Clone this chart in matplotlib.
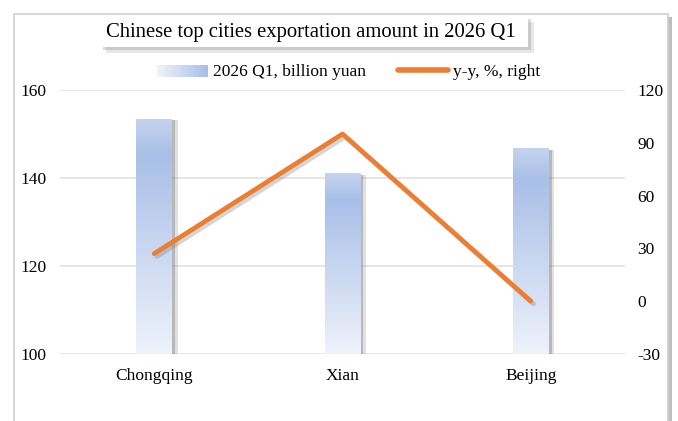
import matplotlib
matplotlib.use("Agg")
import matplotlib.pyplot as plt
import matplotlib.patheffects as pe
from matplotlib.patches import Rectangle
from matplotlib.legend_handler import HandlerBase
from matplotlib.colors import LinearSegmentedColormap, to_rgb
from matplotlib.lines import Line2D
import numpy as np

plt.rcParams['font.family'] = ['Liberation Serif', 'DejaVu Serif']
plt.rcParams['axes.unicode_minus'] = False

cities = ["Chongqing", "Xian", "Beijing"]
export_bn = [153.4, 141.1, 146.6]
yoy_pct = [27, 95, 0]
left_ticks = [100, 120, 140, 160]
right_ticks = [-30, 0, 30, 60, 90, 120]

blue_top = "#c5d3ef"
blue_mid = "#a9bfe8"
blue_low = "#eef2fb"
orange = "#ed7d31"
grid_col = "#e2e2e2"

bar_cmap = LinearSegmentedColormap.from_list(
    "bar", [(0.0, blue_low), (0.85, blue_mid), (1.0, blue_top)])


class GradientHandler(HandlerBase):
    # legend key drawn as a horizontal light -> blue gradient
    def create_artists(self, legend, orig, xd, yd, w, h, fs, trans):
        n = 20
        c0 = np.array(to_rgb("#eef2fb"))
        c1 = np.array(to_rgb(blue_mid))
        arts = []
        for i in range(n):
            c = c0 + (c1 - c0) * i / (n - 1)
            r = Rectangle((-xd + w * i / n, -yd - h * 0.05), w / n + 0.3, h * 1.0,
                          facecolor=c, edgecolor="none", transform=trans)
            arts.append(r)
        return arts


fig = plt.figure(figsize=(6.78, 4.21), dpi=100)

# outer chart frame with shadow
frame = Rectangle((14 / 678, -0.05), (668 - 14) / 678, 1.05 - 14 / 421,
                  transform=fig.transFigure, facecolor="white",
                  edgecolor="#d0d0d0", linewidth=1.2, zorder=-5)
frame.set_path_effects([pe.SimplePatchShadow(offset=(3, -2), shadow_rgbFace="#7f7f7f", alpha=0.5),
                        pe.Normal()])
fig.patches.append(frame)

# title box
tbox = Rectangle((100 / 678, 1 - 47 / 421), 428 / 678, 31 / 421, transform=fig.transFigure,
                 facecolor="white", edgecolor="none", zorder=-4)
tbox.set_path_effects([pe.SimplePatchShadow(offset=(2, -2), shadow_rgbFace="#888888", alpha=0.3),
                       pe.SimplePatchShadow(offset=(4, -4), shadow_rgbFace="#888888", alpha=0.2),
                       pe.Normal()])
fig.patches.append(tbox)

ax = fig.add_axes([60 / 678, 1 - 354 / 421, (625 - 60) / 678, (354 - 90) / 421])
ax.patch.set_visible(False)
ax2 = ax.twinx()

x = np.arange(len(cities))
bars = ax.bar(x, export_bn, width=0.19, bottom=0, color="white", zorder=2)
grad = np.linspace(0, 1, 256).reshape(-1, 1)
for b in bars:
    b.set_path_effects([pe.SimplePatchShadow(offset=(2, -1), shadow_rgbFace="#666666", alpha=0.35),
                        pe.SimplePatchShadow(offset=(4, -1), shadow_rgbFace="#888888", alpha=0.25),
                        pe.Normal()])
    x0 = b.get_x()
    x1 = x0 + b.get_width()
    ax.imshow(grad, extent=(x0, x1, 100, b.get_height()), origin="lower",
              cmap=bar_cmap, aspect="auto", zorder=3)

ax.set_xlim(-0.5, 2.5)
ax.set_ylim(100, 160)
ax.set_yticks(left_ticks)
ax.set_xticks(x)
ax.set_xticklabels(cities)
ax.yaxis.grid(True, color=grid_col, linewidth=1.2, zorder=1)
ax.set_axisbelow(True)
for s in ax.spines.values():
    s.set_visible(False)
ax.tick_params(axis="y", length=0, pad=10, labelsize=12.5)
ax.tick_params(axis="x", length=0, pad=10, labelsize=12.5)

ax2.plot(x, yoy_pct, color=orange, linewidth=3.4, solid_capstyle="round", zorder=5,
         path_effects=[pe.SimpleLineShadow(offset=(2, -2), shadow_color="#777777", alpha=0.3),
                       pe.Normal()])
ax2.set_ylim(-30, 120)
ax2.set_yticks(right_ticks)
for s in ax2.spines.values():
    s.set_visible(False)
ax2.tick_params(axis="y", length=0, pad=9, labelsize=12.5)

fig.text(311 / 678, 1 - 32 / 421, "Chinese top cities exportation amount in 2026 Q1",
         ha="center", va="center", fontsize=14.9)

handles = [Rectangle((0, 0), 1, 1), Line2D([0], [0], color=orange, linewidth=4, solid_capstyle="round")]
labels = ["2026 Q1, billion yuan", "y-y, %, right"]
fig.legend(handles, labels, loc="center", bbox_to_anchor=(349 / 678, 1 - 72 / 421),
           ncol=2, frameon=False, fontsize=12.5, handlelength=2.9, handletextpad=0.3,
           columnspacing=1.85, handler_map={Rectangle: GradientHandler()})

fig.savefig("out.png", dpi=100)
